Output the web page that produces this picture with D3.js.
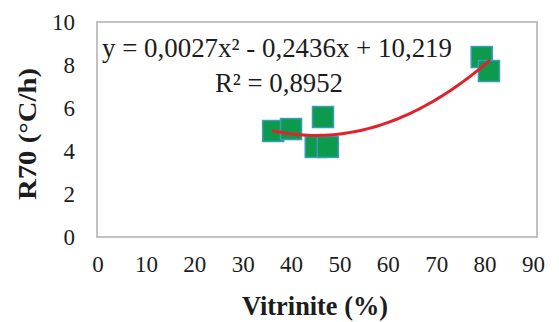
<!DOCTYPE html>
<html>
<head>
<meta charset="utf-8">
<script src="https://cdn.jsdelivr.net/npm/d3@7"></script>
<style>
  body { margin: 0; background: #fff; }
</style>
</head>
<body>
<div id="chart"></div>
<script>
// vitrinite (%) vs R70 (°C/h)
const vitrinite = [36.3, 40.0, 46.6, 45.1, 47.6, 79.4, 80.9];
const r70 = [4.93, 5.02, 5.58, 4.19, 4.19, 8.37, 7.72];
const xTicks = [0, 10, 20, 30, 40, 50, 60, 70, 80, 90];
const yTicks = [0, 2, 4, 6, 8, 10];
const fitCoef = [0.0027, -0.2436, 10.219];   // a, b, c
const equationLabel = "y = 0,0027x² - 0,2436x + 10,219";
const r2Label = "R² = 0,8952";

const serif = "'Liberation Serif', monospace";
const ink = "#1c1c1c";

let width = 559, height = 322;
let plot = {left: 97, top: 22, right: 537, bottom: 237};

let svg = d3.select("#chart").append("svg")
    .attr("width", width)
    .attr("height", height);

let x = d3.scaleLinear().domain([0, 90]).range([97.5, 533]);
let y = d3.scaleLinear().domain([0, 10]).range([plot.bottom, plot.top]);

// plot frame
svg.append("rect")
    .attr("x", plot.left)
    .attr("y", plot.top)
    .attr("width", plot.right - plot.left)
    .attr("height", plot.bottom - plot.top)
    .attr("fill", "none")
    .attr("stroke", "#b3b3b3")
    .attr("stroke-width", 1.6);

// y axis labels
let yAxis = svg.append("g")
    .attr("transform", "translate(" + plot.left + ",0)")
    .call(d3.axisLeft(y).tickValues(yTicks).tickSize(0).tickPadding(22));
yAxis.attr("font-family", null).attr("font-size", null);
yAxis.select(".domain").remove();
yAxis.selectAll("text")
    .style("font-family", serif)
    .style("font-size", "23px")
    .attr("fill", ink);

// x axis labels
let xAxis = svg.append("g")
    .attr("transform", "translate(0," + plot.bottom + ")")
    .call(d3.axisBottom(x).tickValues(xTicks).tickSize(0).tickPadding(27));
xAxis.attr("font-family", null).attr("font-size", null);
xAxis.select(".domain").remove();
xAxis.selectAll("text")
    .style("font-family", serif)
    .style("font-size", "23px")
    .attr("dy", "0.35em")
    .attr("fill", ink);

// markers
svg.selectAll(".pt")
    .data(vitrinite.map((v, i) => ({x: v, y: r70[i]})))
    .enter()
    .append("rect")
    .attr("class", "pt")
    .attr("x", d => x(d.x) - 10.5)
    .attr("y", d => y(d.y) - 10.5)
    .attr("width", 21)
    .attr("height", 21)
    .attr("fill", "#0e9a4c")
    .attr("stroke", "#3a9cb8")
    .attr("stroke-width", 1.5);

// polynomial trend line over data range
let xmin = d3.min(vitrinite), xmax = d3.max(vitrinite);
let trend = d3.range(0, 51).map(i => {
    let xv = xmin + (xmax - xmin) * i / 50;
    return [xv, fitCoef[0] * xv * xv + fitCoef[1] * xv + fitCoef[2]];
});
svg.append("path")
    .datum(trend)
    .attr("fill", "none")
    .attr("stroke", "#e1222b")
    .attr("stroke-width", 3)
    .attr("stroke-linecap", "round")
    .attr("d", d3.line().x(d => x(d[0])).y(d => y(d[1])));

// text helper, stretched to the width seen in the picture
function label(txt, size, len, bold, transform){
    return svg.append("text")
        .attr("text-anchor", "middle")
        .attr("fill", ink)
        .attr("transform", transform)
        .attr("textLength", len)
        .attr("lengthAdjust", "spacingAndGlyphs")
        .style("font-family", serif)
        .style("font-size", size + "px")
        .style("font-weight", bold ? "bold" : "normal")
        .text(txt);
}
label(equationLabel, 27, 350, false, "translate(277,57)");
label(r2Label, 27, 128, false, "translate(279,92)");

// axis titles
label("Vitrinite (%)", 27, 146, true, "translate(315,315)");
label("R70 (°C/h)", 26, 132, true, "translate(36,134) rotate(-90)");
</script>
</body>
</html>
